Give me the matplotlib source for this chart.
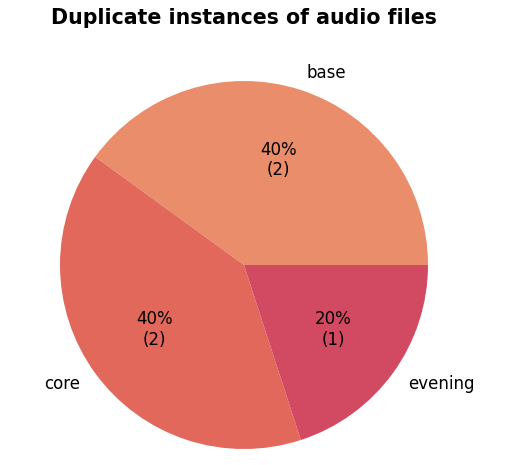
import matplotlib
matplotlib.use("Agg")
import matplotlib.pyplot as plt
import seaborn as sns

labels = ["base", "core", "evening"]
counts = [2, 2, 1]
title = "Duplicate instances of audio files"

colors = sns.color_palette("flare", 6)[:3]
total = sum(counts)

def fmt(pct):
    n = int(round(pct * total / 100.0))
    return f"{pct:.0f}%\n({n})"

fig = plt.figure(figsize=(5.08, 4.65), dpi=100)
ax = fig.add_axes([14 / 508, -30 / 465, 460 / 508, 460 / 465])
ax.pie(counts, labels=labels, colors=colors, autopct=fmt,
       textprops={"fontsize": 12})
ax.set_aspect("equal")
fig.text(244 / 508, 1 - 18 / 465, title, fontsize=14.8, fontweight="bold",
         ha="center", va="center")
fig.savefig("out.png", dpi=100)
